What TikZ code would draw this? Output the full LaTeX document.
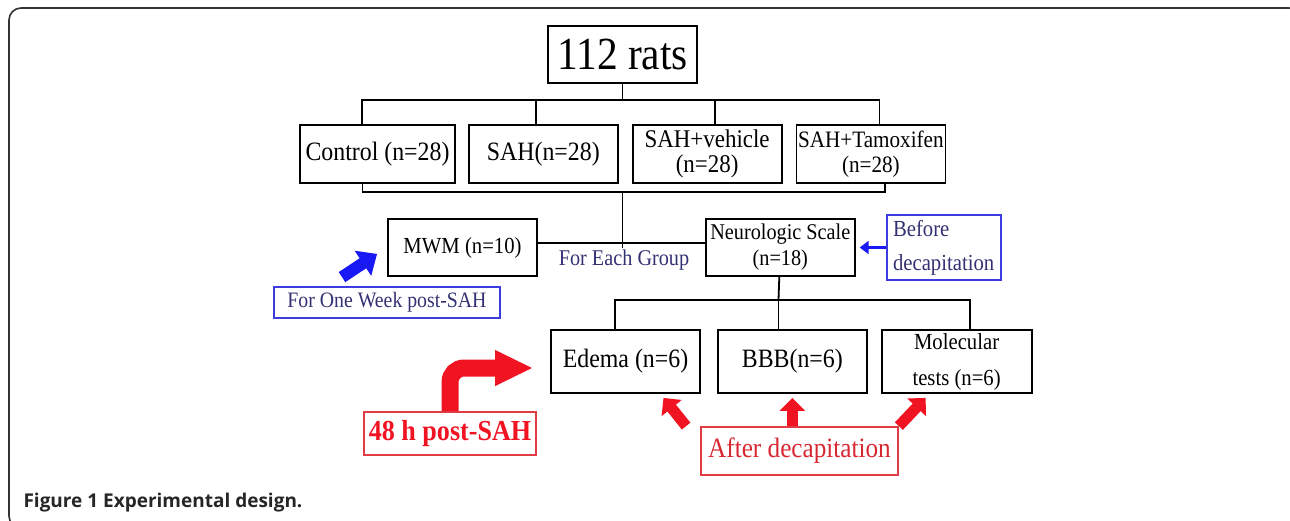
\documentclass[tikz,border=0pt]{standalone}
\usepackage{fontspec}
\setmainfont[FakeStretch=0.9]{Liberation Serif}
\newfontfamily\capfont{Open Sans}
\usetikzlibrary{positioning, arrows.meta}

\definecolor{navytext}{RGB}{50,50,115}
\definecolor{boxblue}{RGB}{60,60,225}
\definecolor{arrowblue}{RGB}{25,25,245}
\definecolor{boxred}{RGB}{225,60,70}
\definecolor{arrowred}{RGB}{240,20,35}
\definecolor{textred}{RGB}{215,40,50}

\tikzset{
  box/.style={draw, line width=1.8pt, inner sep=0pt, align=center,
    minimum width=149pt},
  group/.style={box, minimum height=58pt, font=\fontsize{26.5}{25}\selectfont},
  bluebox/.style={draw=boxblue, line width=1.8pt, inner sep=0pt, text=navytext,
    font=\fontsize{22}{22}\selectfont},
  redbox/.style={draw=boxred, line width=1.8pt, inner sep=0pt},
  link/.style={line width=1.8pt},
  fatred/.style={draw=arrowred, line width=17pt,
    -{Triangle[length=38pt, width=33pt]}},
  redarrow/.style={draw=arrowred, line width=11pt,
    -{Triangle[length=13pt, width=25pt]}},
  fatblue/.style={draw=arrowblue, line width=12pt,
    -{Triangle[length=17pt, width=29pt]}},
  thinblue/.style={draw=arrowblue, line width=3pt,
    -{Triangle[length=9pt, width=13pt]}},
}

\begin{document}
\begin{tikzpicture}[x=1pt, y=-1pt]
    \useasboundingbox (0,0) rectangle (1290,520);
    \begin{scope}
        \clip (0,0) rectangle (1290,520);
        \draw[line width=1.6pt, draw=black!80, rounded corners=12pt] (9,8) rectangle (1301,528);
    \end{scope}

    \node[box, minimum height=57pt, font=\fontsize{46}{46}\selectfont] (rats) at (622.5,54.5) {112 rats};

    \node[group, minimum width=155pt] (control) at (377.5,154) {Control (n=28)};
    \node[group, right=12pt of control] (sah) {SAH(n=28)};
    \node[group, right=13pt of sah, font=\fontsize{25.5}{25}\selectfont] (vehicle) {SAH+vehicle\\(n=28)};
    \node[group, right=13pt of vehicle, font=\fontsize{23.5}{25}\selectfont] (tamoxifen) {SAH+Tamoxifen\\(n=28)};

    \node[box, minimum height=57pt, font=\fontsize{23}{23}\selectfont] (mwm) at (462.5,247.5) {MWM (n=10)};
    \node[box, minimum height=57pt, right=167pt of mwm, font=\fontsize{22.5}{26}\selectfont] (neuro) {Neurologic Scale\\(n=18)};
    \node[text=navytext, font=\fontsize{22.5}{22.5}\selectfont] (each group) at (624,260) {For Each Group};
    \node[bluebox, right=30pt of neuro, minimum width=114pt, minimum height=65pt, align=left,
      font=\fontsize{23}{34}\selectfont] (before) {Before\\decapitation};
    \node[bluebox, minimum width=226pt, minimum height=31pt] (one week) at (387,302.5) {For One Week post-SAH};

    \node[box, minimum height=63pt, font=\fontsize{26.5}{26}\selectfont] (edema) at (625.5,361.5) {Edema (n=6)};
    \node[box, minimum height=63pt, right=16pt of edema, font=\fontsize{26.5}{26}\selectfont] (bbb) {BBB(n=6)};
    \node[box, minimum height=63pt, minimum width=150pt, right=13pt of bbb, font=\fontsize{23}{36}\selectfont] (molecular) {Molecular\\tests (n=6)};

    \node[redbox, minimum width=172pt, minimum height=43pt, text=arrowred,
      font=\bfseries\fontsize{29}{29}\selectfont] (h48) at (450,433.5) {48 h post-SAH};
    \node[redbox, minimum width=197pt, minimum height=48pt, text=textred,
      font=\fontsize{28}{28}\selectfont] (after) at (799.5,451) {After decapitation};

    \node[anchor=base west, text=black!85, font=\capfont\bfseries\fontsize{19}{19}\selectfont] (caption) at (20,507) {Figure 1 Experimental design.};

    \coordinate (bus 1) at (622.5,100);
    \coordinate (bus 2) at (622.5,192);
    \coordinate (bus 3) at (778.5,300);

    \draw[link] (rats) -- (bus 1);
    \draw[link] (bus 1) -| ([xshift=-15.5pt]control.north);
    \draw[link] (bus 1) -| ([xshift=-7.5pt]sah.north);
    \draw[link] (bus 1) -| ([xshift=7.5pt]vehicle.north);
    \draw[link] (bus 1) -| ([xshift=8.5pt]tamoxifen.north);

    \draw[link] (bus 2) -| ([xshift=-15pt]control.south);
    \draw[link] (bus 2) -| ([xshift=14pt]tamoxifen.south);
    \draw[link] ([yshift=4.5pt]mwm.east) -- ([yshift=4.5pt]neuro.west);
    \draw[link] (bus 2) -- (bus 2 |- mwm.east);

    \draw[link] (neuro) -- (bus 3);
    \draw[link] (bus 3) -| ([xshift=-10.5pt]edema.north);
    \draw[link] (bus 3) -- (bus 3 |- bbb.north);
    \draw[link] (bus 3) -| ([xshift=13pt]molecular.north);

    \draw[fatblue] ([shift={(-45pt,9pt)}]one week.north) -- ([shift={(-10pt,23pt)}]mwm.south west);
    \draw[thinblue] (before) -- ([xshift=4pt]neuro.east |- before.west);

    \draw[fatred, rounded corners=14pt] (h48.north) |- ([shift={(-17pt,-6.5pt)}]edema.west);
    \draw[redarrow] ([xshift=-14pt]after.north west) -- ([shift={(38pt,-4pt)}]edema.south);
    \draw[redarrow] (bbb.south |- after.north) -- ([yshift=-4pt]bbb.south);
    \draw[redarrow] (after.north east) -- ([shift={(-31pt,-4pt)}]molecular.south);

\end{tikzpicture}
\end{document}
